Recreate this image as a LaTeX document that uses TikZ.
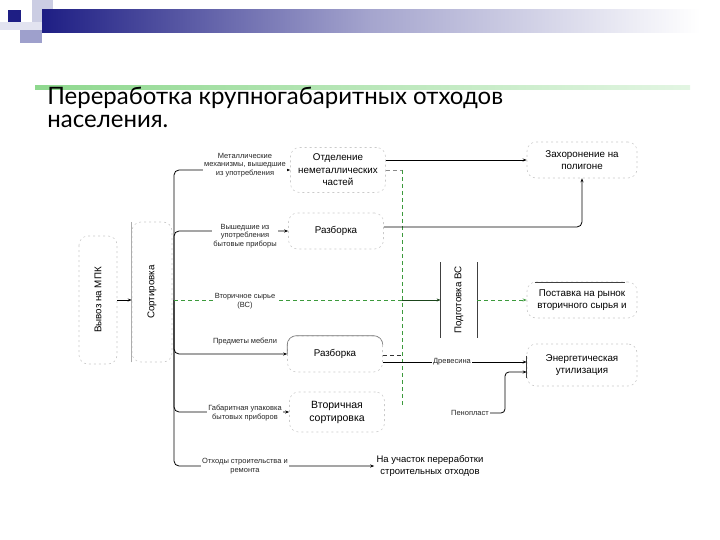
\documentclass[tikz,border=0pt]{standalone}
\usepackage{fontspec}
\setmainfont{Liberation Sans}
\newfontfamily\titlefont{Lato}
\usetikzlibrary{arrows.meta, positioning, calc}
\definecolor{cnavy}{HTML}{1E1E84}
\definecolor{clav}{HTML}{CBCDE3}
\definecolor{cmid}{HTML}{9EA0CC}
\definecolor{cgreen}{HTML}{3C9A3C}
\definecolor{cpale}{HTML}{8ED88E}
\definecolor{cgrey}{HTML}{8A8A8A}
\tikzset{
  every picture/.style={line width=0.8pt},
  blk/.style={draw=cgrey!45, dash pattern=on 2pt off 3pt, line width=0.6pt, rounded corners=9pt,
    align=center, inner sep=3pt, font=\fontsize{9.8}{12.5}\selectfont},
  lbl/.style={fill=white, align=center, inner sep=1pt, text=black!85, font=\fontsize{7.5}{8.8}\selectfont},
  arrow/.style={-{Stealth[length=4pt, width=3pt]}, draw=black, line width=0.8pt},
  flow/.style={draw=cgreen, dash pattern=on 4pt off 3pt, line width=0.8pt},
  edge/.style={draw=black!75, line width=0.9pt},
}

\begin{document}
\begin{tikzpicture}[x=1pt, y=1pt]
  \useasboundingbox (0,0) rectangle (720,-540);
  % header
  \fill[clav] (32,0) rectangle (53,-22);
  \fill[clav!55] (0,-22) rectangle (42,-30);
  \fill[cmid] (20,-30) rectangle (42,-43);
  \fill[cnavy] (8,-10) rectangle (21,-22);
  \shade[left color=cnavy, right color=white, middle color=cnavy!40] (42,-10) rectangle (700,-33);
  \shade[left color=cpale, right color=cpale!25] (35,-86) rectangle (690,-90);
  \node[anchor=north west, align=left, inner sep=0pt, font=\titlefont\fontsize{24}{23}\selectfont] (title)
    at (47,-87) {Переработка крупногабаритных отходов\\населения.};
  % left blocks
  \node[blk, rotate=90, minimum width=128pt, minimum height=38pt] (mpk) at (98,-300) {Вывоз на МПК};
  \node[blk, rotate=90, minimum width=140pt, minimum height=40pt] (sort) at (152,-292) {Сортировка};
  \draw[cgrey!70] (sort.north west) -- (sort.north east);
  \draw[arrow] (mpk.south) -- (mpk.south -| sort.north);
  \coordinate (tm) at (174,-300);
  % middle blocks
  \node[blk, minimum width=95pt, minimum height=45pt] (sep) at (338,-170) {Отделение\\неметаллических\\частей};
  \node[blk, minimum width=95pt, minimum height=36pt] (raz1) at (336,-231) {Разборка};
  \node[blk, minimum width=95pt, minimum height=36pt] (raz2) at (335,-354) {Разборка};
  \draw[black!55, line width=0.6pt, rounded corners=9pt] (raz2.west |- 0,-354) |- (raz2.north east) -- ++(0,-9);
  \node[blk, minimum width=95pt, minimum height=40pt, font=\fontsize{10.5}{13}\selectfont] (sec) at (337,-412) {Вторичная\\сортировка};
  \node[align=center, inner sep=2pt, font=\fontsize{9.5}{12}\selectfont] (bld) at (430,-466) {На участок переработки\\строительных отходов};
  % branches from the sorting trunk
  \foreach \tgt/\ly/\txt in {sep/-165/{Металлические\\механизмы, вышедшие\\из употребления},
      raz1/-236/{Вышедшие из\\употребления\\бытовые приборы},
      raz2/-342/{Предметы мебели},
      sec/-413/{Габаритная упаковка\\бытовых приборов},
      bld/-466/{Отходы строительства и\\ремонта}} {
    \draw[arrow, rounded corners=5pt] (tm) |- (\tgt.west);
    \node[lbl] (l\tgt) at (245,\ly) {\txt};
  }
  % right blocks
  \node[blk, minimum width=110pt, minimum height=36pt] (zah) at (582,-160) {Захоронение на\\полигоне};
  \node[rotate=90, minimum width=75pt, minimum height=36pt, inner sep=0pt, font=\fontsize{9.8}{11}\selectfont] (prep) at (459,-300) {Подготовка ВС};
  \draw[edge] (prep.north west) -- (prep.north east);
  \draw[edge] (prep.south west) -- (prep.south east);
  \node[blk, minimum width=110pt, minimum height=36pt] (pos) at (582,-300) {Поставка на рынок\\вторичного сырья и};
  \draw[edge] ([xshift=8pt, yshift=-1pt]pos.north west) -- ([xshift=-12pt, yshift=-1pt]pos.north east);
  \node[blk, minimum width=110pt, minimum height=42pt] (ener) at (582,-365) {Энергетическая\\утилизация};
  \draw[edge] ([yshift=-12pt]ener.north west) -- ([yshift=8pt]ener.south west);
  % secondary raw material collector
  \coordinate (g1) at (402,-170);
  \coordinate (g3) at (402,-300);
  \coordinate (g4) at (402,-355);
  \coordinate (g5) at (402,-405);
  \draw[flow] (g1) -- (g5);
  \draw[cgrey, dash pattern=on 4pt off 3pt] (sep.east) -- (g1);
  \draw[flow] (tm) -- (g3);
  \node[lbl] (lvs) at (245,-301) {Вторичное сырье\\(ВС)};
  \draw[arrow, draw=cgreen!45!black] (g3) -- (prep.north);
  \draw[flow, -{Stealth[length=4pt, width=3pt]}] (prep.south) -- (pos.west);
  % outputs
  \draw[arrow] ([yshift=10pt]sep.east) -- (zah.west);
  \draw[arrow, rounded corners=5pt] ([yshift=4pt]raz1.east) -| (zah.south);
  \draw[black!80, dash pattern=on 4pt off 3pt] ([yshift=-1pt]raz2.east) -- (g4);
  \draw[arrow] ([yshift=-8pt]raz2.east) -- ([yshift=3pt]ener.west);
  \node[lbl] (wood) at (452,-362) {Древесина};
  \node[lbl, fill=none] (foam) at (470,-413) {Пенопласт};
  \coordinate (fk) at (505,-372);
  \draw[arrow, rounded corners=4pt] (foam.east) -| (fk) -- (fk -| ener.west);
\end{tikzpicture}
\end{document}
